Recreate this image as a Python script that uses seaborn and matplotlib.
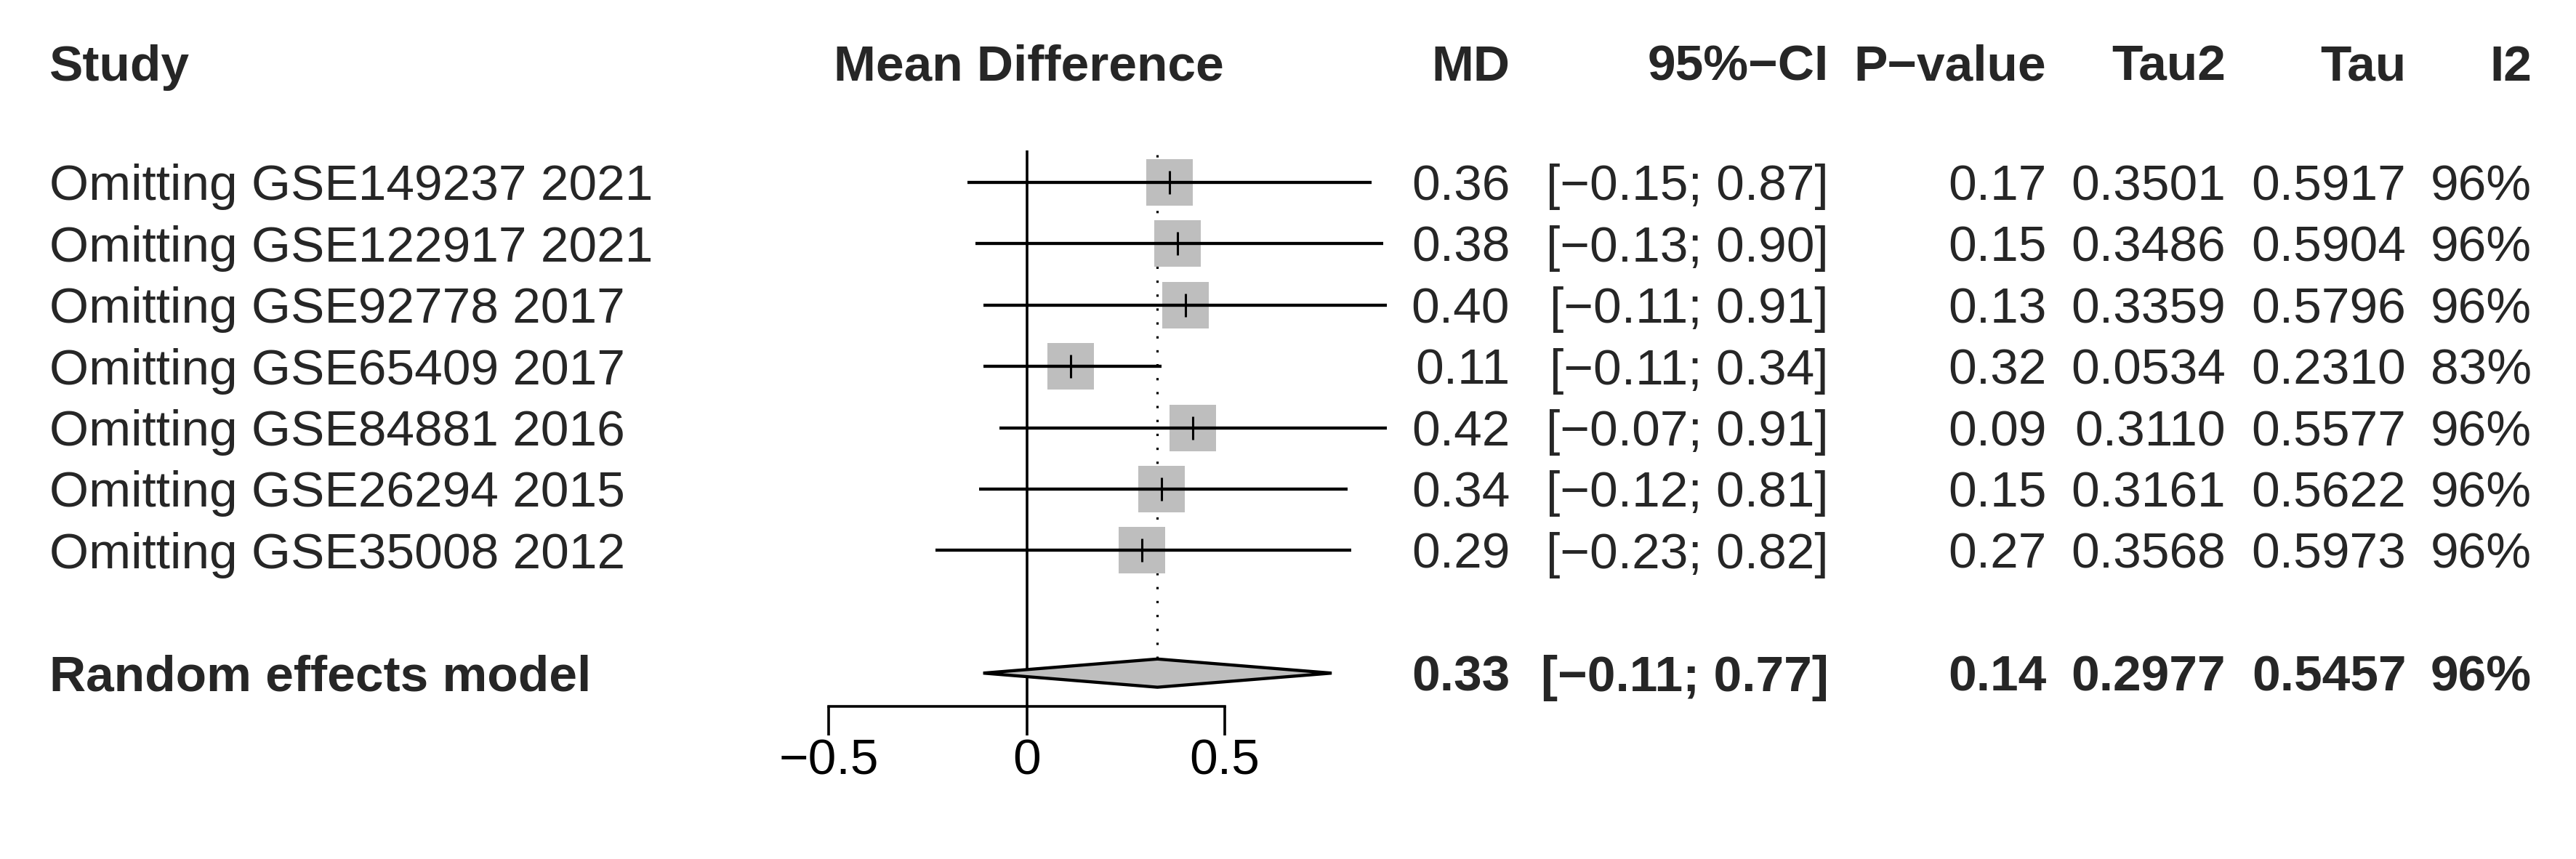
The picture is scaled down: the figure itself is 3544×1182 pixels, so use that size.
import matplotlib.pyplot as plt
import seaborn as sns
import pandas as pd
from matplotlib.transforms import blended_transform_factory

# --- data (leave-one-out meta-analysis) ---
studies = [
    "Omitting GSE149237 2021",
    "Omitting GSE122917 2021",
    "Omitting GSE92778 2017",
    "Omitting GSE65409 2017",
    "Omitting GSE84881 2016",
    "Omitting GSE26294 2015",
    "Omitting GSE35008 2012",
]
md = [0.36, 0.38, 0.40, 0.11, 0.42, 0.34, 0.29]
ci_low = [-0.15, -0.13, -0.11, -0.11, -0.07, -0.12, -0.23]
ci_high = [0.87, 0.90, 0.91, 0.34, 0.91, 0.81, 0.82]
p_values = [0.17, 0.15, 0.13, 0.32, 0.09, 0.15, 0.27]
tau2 = [0.3501, 0.3486, 0.3359, 0.0534, 0.3110, 0.3161, 0.3568]
tau = [0.5917, 0.5904, 0.5796, 0.2310, 0.5577, 0.5622, 0.5973]
i2 = [96, 96, 96, 83, 96, 96, 96]

pooled_label = "Random effects model"
pooled_md = 0.33
pooled_low = -0.11
pooled_high = 0.77
pooled_p = 0.14
pooled_tau2 = 0.2977
pooled_tau = 0.5457
pooled_i2 = 96

xticks = [-0.5, 0, 0.5]
xtick_labels = ["\u22120.5", "0", "0.5"]

df = pd.DataFrame({"study": studies, "md": md, "low": ci_low, "high": ci_high,
                   "p": p_values, "tau2": tau2, "tau": tau, "i2": i2})
df["row"] = range(len(df))
pooled_row = len(df) + 1

# --- style ---
sns.set_theme(style="white")
plt.rcParams["font.family"] = ["Liberation Sans", "DejaVu Sans"]
FS = 50
LW = 2.6
LW_CI = 3.1
GREY = "#BEBEBE"

fig = plt.figure(figsize=(35.44, 11.82), dpi=100)
ax = fig.add_axes([470 / 1568, 0, 400 / 1568, 1])
ax.set_xlim(-0.6432, 1.0166)
ax.set_ylim(11.03, -2.972)
ax.patch.set_alpha(0)

# squares, CI lines, small ticks at the estimate
sns.scatterplot(data=df, x="md", y="row", marker="s", s=2190, color=GREY,
                linewidth=0, ax=ax, zorder=2, legend=False)
ax.hlines(df["row"], df["low"], df["high"], color="black", lw=LW_CI, zorder=3)
sns.scatterplot(data=df, x="md", y="row", marker="|", s=560, color="black",
                linewidth=2.2, ax=ax, zorder=4, legend=False)

# pooled diamond
h = 0.23
ax.fill([pooled_low, pooled_md, pooled_high, pooled_md],
        [pooled_row, pooled_row - h, pooled_row, pooled_row + h],
        facecolor=GREY, edgecolor="black", lw=LW_CI, zorder=3)

# reference lines
axis_row = 8.54
ax.vlines(0, -0.52, axis_row, color="black", lw=LW, zorder=1)
ax.vlines(pooled_md, -0.45, pooled_row - h, color="black", lw=2.3,
          linestyles=(0, (1, 5)), zorder=1)

# x axis like R meta
for side in ["top", "left", "right"]:
    ax.spines[side].set_visible(False)
ax.spines["bottom"].set_position(("data", axis_row))
ax.spines["bottom"].set_bounds(-0.5, 0.5)
ax.spines["bottom"].set_linewidth(LW)
ax.spines["bottom"].set_color("black")
ax.set_xticks(xticks)
ax.set_xticklabels(xtick_labels, fontsize=FS)
ax.tick_params(axis="x", direction="out", length=28.5, width=LW, pad=3,
               colors="black", bottom=True)
ax.set_yticks([])
ax.set_xlabel("")
ax.set_ylabel("")
ax.grid(False)

# --- text columns ---
tr = blended_transform_factory(fig.transFigure, ax.transData)
off = 0.29  # baseline offset (rows) so text is centred on the row
x_study = 30 / 1568
x_head_md = 626 / 1568
x_md = 919 / 1568
x_ci = 1113 / 1568
x_p = 1245.6 / 1568
x_tau2 = 1354.6 / 1568
x_tau = 1464.6 / 1568
x_i2 = 1541 / 1568

head_row = -1.95
heads = [("Study", x_study, "left"), ("Mean Difference", x_head_md, "center"),
         ("MD", x_md, "right"), ("95%\u2212CI", x_ci, "right"),
         ("P\u2212value", x_p, "right"), ("Tau2", x_tau2, "right"),
         ("Tau", x_tau, "right"), ("I2", x_i2, "right")]
for txt, x, ha in heads:
    ax.text(x, head_row + off, txt, transform=tr, ha=ha, va="baseline",
            fontsize=FS, fontweight="bold")


def fmt(v, n):
    return f"{v:.{n}f}".replace("-", "\u2212")


def row_text(r, name, m, lo, hi, p, t2, t, i, weight):
    y = r + off
    ax.text(x_study, y, name, transform=tr, ha="left", va="baseline",
            fontsize=FS, fontweight=weight)
    cols = [(fmt(m, 2), x_md), (f"[{fmt(lo, 2)}; {fmt(hi, 2)}]", x_ci),
            (fmt(p, 2), x_p), (fmt(t2, 4), x_tau2), (fmt(t, 4), x_tau),
            (f"{i}%", x_i2)]
    for txt, x in cols:
        ax.text(x, y, txt, transform=tr, ha="right", va="baseline",
                fontsize=FS, fontweight=weight)


for _, r in df.iterrows():
    row_text(r["row"], r["study"], r["md"], r["low"], r["high"], r["p"],
             r["tau2"], r["tau"], int(r["i2"]), "normal")
row_text(pooled_row, pooled_label, pooled_md, pooled_low, pooled_high,
         pooled_p, pooled_tau2, pooled_tau, pooled_i2, "bold")

fig.savefig("out.png", dpi=100, facecolor="white")
